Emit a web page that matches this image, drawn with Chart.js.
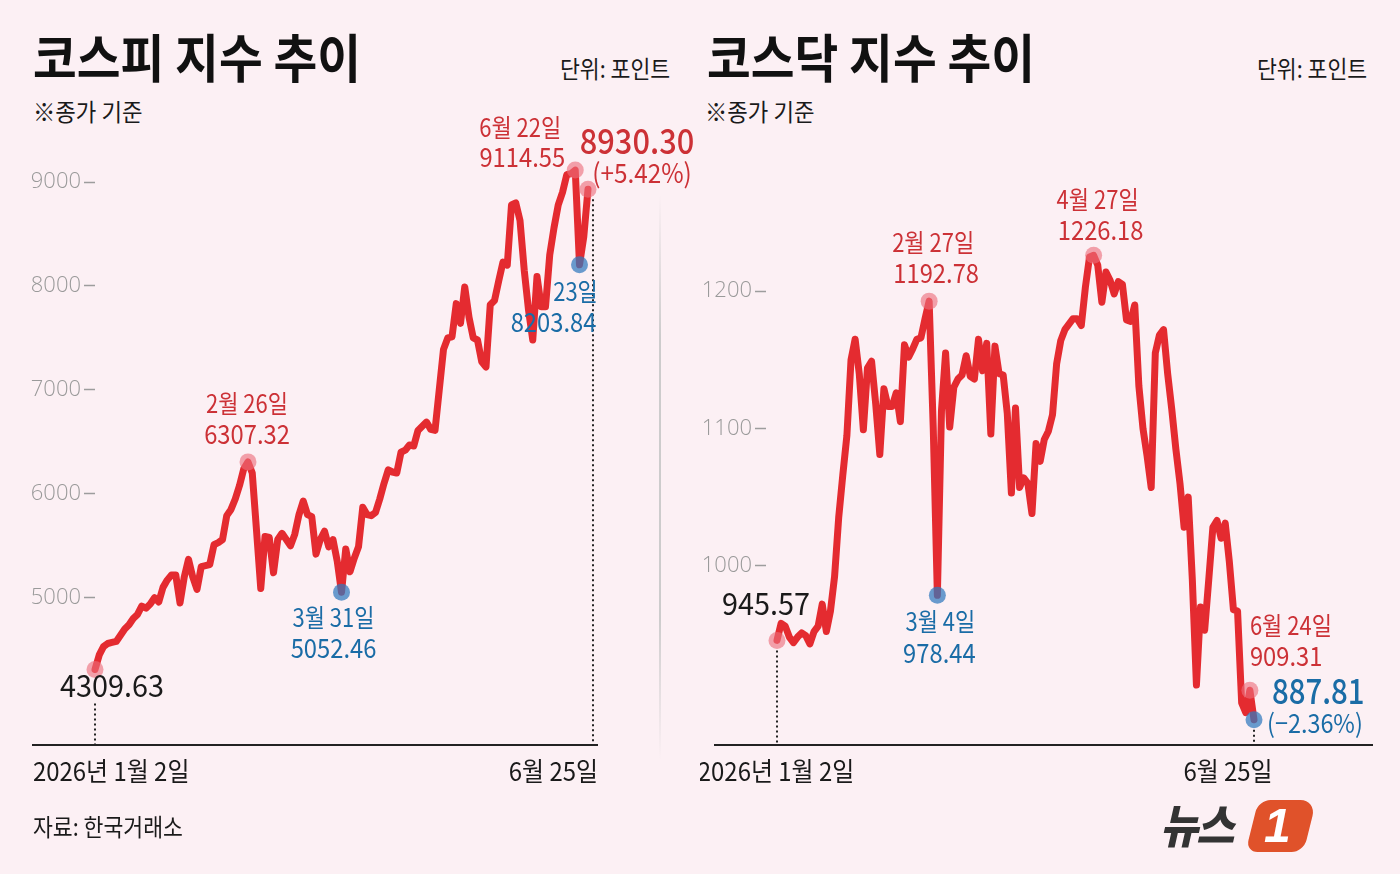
<!DOCTYPE html>
<html><head><meta charset="utf-8">
<script src="https://cdn.jsdelivr.net/npm/chart.js@4.4.1/dist/chart.umd.min.js"></script>
<style>
html,body{margin:0;padding:0;}
body{width:1400px;height:874px;background:#fcf0f4;position:relative;overflow:hidden;font-family:"Noto Sans CJK KR","Noto Sans",sans-serif;}
.t{position:absolute;white-space:nowrap;transform-origin:0 0;line-height:1;}
.title{font-size:52px;font-weight:700;color:#111;transform:scaleX(0.915);}
.unit{font-size:24px;color:#1a1a1a;transform:scaleX(0.9);}
.note{font-size:24px;color:#1a1a1a;transform:scaleX(0.93);}
canvas{position:absolute;top:0;}
#divider{position:absolute;left:659px;top:195px;width:2px;height:565px;background:linear-gradient(to bottom,rgba(200,200,200,0),rgba(200,200,200,0.9) 25%,rgba(200,200,200,0.9) 75%,rgba(200,200,200,0));}
#logo{position:absolute;left:1160px;top:798px;width:170px;height:60px;}
#logo .nw{position:absolute;left:0;top:2px;white-space:nowrap;font-size:46px;font-weight:900;font-style:italic;color:#333;letter-spacing:-2px;line-height:1;transform:scaleX(0.9);transform-origin:0 0;}
#logo .box{position:absolute;left:92px;top:2px;width:58px;height:52px;background:#e0522a;border-radius:12px 16px 12px 12px;transform:skewX(-14deg);}
#logo .one{position:absolute;left:104px;top:4px;font-family:"Liberation Sans",sans-serif;font-size:48px;font-weight:700;font-style:italic;color:#fff;line-height:1;}
</style></head>
<body>
<div class="t title" style="left:33px;top:30px;">코스피 지수 추이</div>
<div class="t unit" style="left:560px;top:56px;">단위: 포인트</div>
<div class="t note" style="left:33px;top:99px;">※종가 기준</div>
<div class="t title" style="left:707px;top:30px;">코스닥 지수 추이</div>
<div class="t unit" style="left:1257px;top:56px;">단위: 포인트</div>
<div class="t note" style="left:705px;top:99px;">※종가 기준</div>
<div id="divider"></div>
<canvas id="c1" width="700" height="874" style="left:0;width:700px;height:874px;"></canvas>
<canvas id="c2" width="700" height="874" style="left:700px;width:700px;height:874px;"></canvas>
<div class="t" style="left:33px;top:814px;font-size:24px;color:#1a1a1a;transform:scaleX(0.9);">자료: 한국거래소</div>
<div id="logo"><div class="nw">뉴스</div><div class="box"></div><div class="one">1</div></div>
<script>
// ---- data (trading-day index 0 = 2026-01-02 ... 116 = 2026-06-25) ----
const xTickLabels = ['2026년 1월 2일', '6월 25일'];
const kospiTicks = [5000, 6000, 7000, 8000, 9000];
const kosdaqTicks = [1000, 1100, 1200];

const kospi = [
4309.63, 4450, 4530, 4560, 4570, 4580, 4640, 4700, 4740, 4800,
4840, 4920, 4900, 4940, 5000, 4960, 5100, 5170, 5220, 5220,
4950, 5200, 5370, 5200, 5080, 5300, 5310, 5320, 5510, 5530,
5560, 5790, 5850, 5950, 6080, 6240, 6307.32, 6200, 5650, 5090,
5590, 5580, 5240, 5560, 5620, 5560, 5500, 5610, 5800, 5930,
5800, 5780, 5420, 5560, 5640, 5490, 5560, 5350, 5052.46, 5470,
5250, 5380, 5490, 5870, 5800, 5790, 5820, 5950, 6100, 6230,
6210, 6200, 6400, 6420, 6470, 6460, 6610, 6650, 6690, 6620,
6610, 7000, 7390, 7500, 7510, 7830, 7640, 7990, 7700, 7500,
7480, 7270, 7220, 7820, 7860, 8050, 8230, 8200, 8780, 8800,
8630, 8150, 7770, 7480, 8090, 7800, 7800, 8300, 8560, 8780,
8900, 9070, 9080, 9114.55, 8203.84, 8471.0, 8930.30
];

const kosdaq = [
945.57, 958, 956, 948, 944, 948, 951, 949, 943, 952,
956, 972, 952, 967, 992, 1035, 1066, 1095, 1150, 1165,
1140, 1099, 1144, 1149, 1118, 1081, 1129, 1116, 1116, 1126,
1105, 1161, 1152, 1158, 1165, 1166, 1180, 1192.78, 1100, 978.44,
1113, 1155, 1101, 1130, 1136, 1139, 1153, 1138, 1136, 1165,
1142, 1162, 1096, 1160, 1140, 1139, 1111, 1053, 1115, 1057,
1064, 1060, 1038, 1089, 1076, 1092, 1098, 1110, 1147, 1164,
1172, 1176, 1180, 1180, 1175, 1203, 1225, 1226.18, 1219, 1192,
1214, 1208, 1198, 1207, 1205, 1179, 1178, 1190, 1131, 1100,
1080, 1057, 1155, 1168, 1172, 1140, 1114, 1085, 1060, 1028,
1050, 990, 913, 970, 953, 990, 1028, 1033, 1020, 1031,
1003, 968, 967, 900, 893, 909.31, 887.81
];

// highlighted points: index -> marker type
const kospiMarks = {0:'hi', 36:'hi', 58:'lo', 113:'hi', 114:'lo', 116:'hi'};
const kosdaqMarks = {0:'hi', 37:'hi', 39:'lo', 77:'hi', 115:'hi', 116:'lo'};

// ---- styling ----
const RED = '#e42b30', TRED = '#cc3136', TBLUE = '#1a6ca6', TBLACK = '#1a1a1a';
const PINK = 'rgba(236,110,122,0.62)', BLUE = 'rgba(48,120,190,0.72)';
const FONT = '"Noto Sans CJK KR","Noto Sans",sans-serif';

const kospiNotes = [
  {i:0, lines:[{t:'4309.63', c:TBLACK, s:31, dx:17, dy:16, sx:0.93}]},
  {i:36, lines:[{t:'2월 26일', c:TRED, s:25, dx:-1, dy:-58}, {t:'6307.32', c:TRED, s:27, dx:-1, dy:-28}]},
  {i:58, lines:[{t:'3월 31일', c:TBLUE, s:25, dx:-8, dy:25}, {t:'5052.46', c:TBLUE, s:27, dx:-8, dy:55}]},
  {i:113, lines:[{t:'6월 22일', c:TRED, s:25, dx:-55, dy:-43}, {t:'9114.55', c:TRED, s:27, dx:-53, dy:-13}]},
  {i:114, lines:[{t:'23일', c:TBLUE, s:25, dx:-4, dy:27}, {t:'8203.84', c:TBLUE, s:27, dx:-26, dy:57}]},
  {i:116, lines:[{t:'8930.30', c:TRED, s:35, dx:49, dy:-49, w:'500'}, {t:'(+5.42%)', c:TRED, s:27, dx:54, dy:-17, sx:0.9}]}
];
const kosdaqNotes = [
  {i:0, lines:[{t:'945.57', c:TBLACK, s:31, dx:-11, dy:-37, sx:0.93}]},
  {i:37, lines:[{t:'2월 27일', c:TRED, s:25, dx:4, dy:-59}, {t:'1192.78', c:TRED, s:27, dx:7, dy:-28}]},
  {i:39, lines:[{t:'3월 4일', c:TBLUE, s:25, dx:3, dy:26}, {t:'978.44', c:TBLUE, s:27, dx:2, dy:57}]},
  {i:77, lines:[{t:'4월 27일', c:TRED, s:25, dx:4, dy:-56}, {t:'1226.18', c:TRED, s:27, dx:7, dy:-26}]},
  {i:115, lines:[{t:'6월 24일', c:TRED, s:25, dx:0, dy:-65, a:'left'}, {t:'909.31', c:TRED, s:27, dx:0, dy:-34, a:'left'}]},
  {i:116, lines:[{t:'887.81', c:TBLUE, s:35, dx:18, dy:-29, a:'left', w:'500', sx:0.84}, {t:'(−2.36%)', c:TBLUE, s:26, dx:13, dy:3, a:'left', sx:0.9}]}
];

function drawText(ctx, txt, x, y, o) {
  ctx.save();
  ctx.font = (o.w || '400') + ' ' + o.s + 'px ' + FONT;
  ctx.fillStyle = o.c;
  ctx.textAlign = o.a || 'center';
  ctx.textBaseline = 'middle';
  ctx.translate(x, y);
  ctx.scale(o.sx || 0.88, 1);
  ctx.fillText(txt, 0, 0);
  ctx.restore();
}

function decoPlugin(cfg) {
  return {
    id: 'deco',
    beforeDatasetsDraw(chart) {
      const ctx = chart.ctx, ca = chart.chartArea, meta = chart.getDatasetMeta(0);
      ctx.save();
      ctx.strokeStyle = '#222'; ctx.lineWidth = 2;
      ctx.beginPath(); ctx.moveTo(cfg.base[0], ca.bottom + 1); ctx.lineTo(cfg.base[1], ca.bottom + 1); ctx.stroke();
      ctx.strokeStyle = '#222'; ctx.lineWidth = 2; ctx.setLineDash([2, 3]);
      cfg.guides.forEach(g => {
        const p = meta.data[g.i];
        ctx.beginPath(); ctx.moveTo(p.x + g.dx, p.y + g.from); ctx.lineTo(p.x + g.dx, ca.bottom); ctx.stroke();
      });
      ctx.restore();
      cfg.xl.forEach((l, k) => {
        const p = meta.data[l.i];
        drawText(ctx, xTickLabels[k], p.x + l.dx, ca.bottom + 27, {s:26, c:TBLACK, a:l.a, sx:0.92});
      });
    },
    afterDatasetsDraw(chart) {
      const ctx = chart.ctx, meta = chart.getDatasetMeta(0);
      cfg.notes.forEach(n => {
        const p = meta.data[n.i];
        n.lines.forEach(l => drawText(ctx, l.t, p.x + l.dx, p.y + l.dy, l));
      });
    }
  };
}

function makeChart(id, values, marks, ticks, yMin, yMax, xMin, axisW, padRight, deco) {
  const data = values.map((v, i) => ({x: i, y: v}));
  const radii = values.map((v, i) => marks[i] ? 8.5 : 0);
  const colors = values.map((v, i) => marks[i] === 'lo' ? BLUE : PINK);
  return new Chart(document.getElementById(id), {
    type: 'line',
    data: { datasets: [{
      data, borderColor: RED, borderWidth: 7, tension: 0,
      borderJoinStyle: 'round', borderCapStyle: 'round',
      pointRadius: radii, pointBackgroundColor: colors, pointBorderWidth: 0,
      pointHoverRadius: radii, clip: false
    }]},
    options: {
      responsive: false, animation: false, events: [],
      layout: { padding: {left: 0, right: padRight, top: 150, bottom: 130} },
      plugins: { legend: {display: false}, tooltip: {enabled: false} },
      scales: {
        x: { type: 'linear', display: false, min: xMin, max: values.length - 1 },
        y: {
          min: yMin, max: yMax,
          afterBuildTicks: s => { s.ticks = ticks.map(v => ({value: v})); },
          afterFit: s => { s.width = axisW; },
          border: {display: false},
          grid: {drawOnChartArea: false, drawTicks: true, tickLength: 11, tickColor: '#9d9d9d', tickWidth: 1.5},
          ticks: {color: '#9a9a9a', padding: 3, callback: v => String(v),
                  font: {family: '"Open Sans","Lato",sans-serif', size: 22, weight: '300'}}
        }
      }
    },
    plugins: [decoPlugin(deco)]
  });
}

makeChart('c1', kospi, kospiMarks, kospiTicks, 3593, 9308, 0, 95, 112, {
  base: [32, 598],
  guides: [{i:0, dx:0, from:34}, {i:116, dx:5, from:10}],
  xl: [{i:0, dx:-62, a:'left'}, {i:116, dx:10, a:'right'}],
  notes: kospiNotes
});
makeChart('c2', kosdaq, kosdaqMarks, kosdaqTicks, 870.1, 1302.9, -2.675, 66, 146, {
  base: [14, 673],
  guides: [{i:0, dx:0, from:10}, {i:116, dx:0, from:10}],
  xl: [{i:0, dx:-1, a:'center'}, {i:116, dx:-26, a:'center'}],
  notes: kosdaqNotes
});
</script>
</body></html>
